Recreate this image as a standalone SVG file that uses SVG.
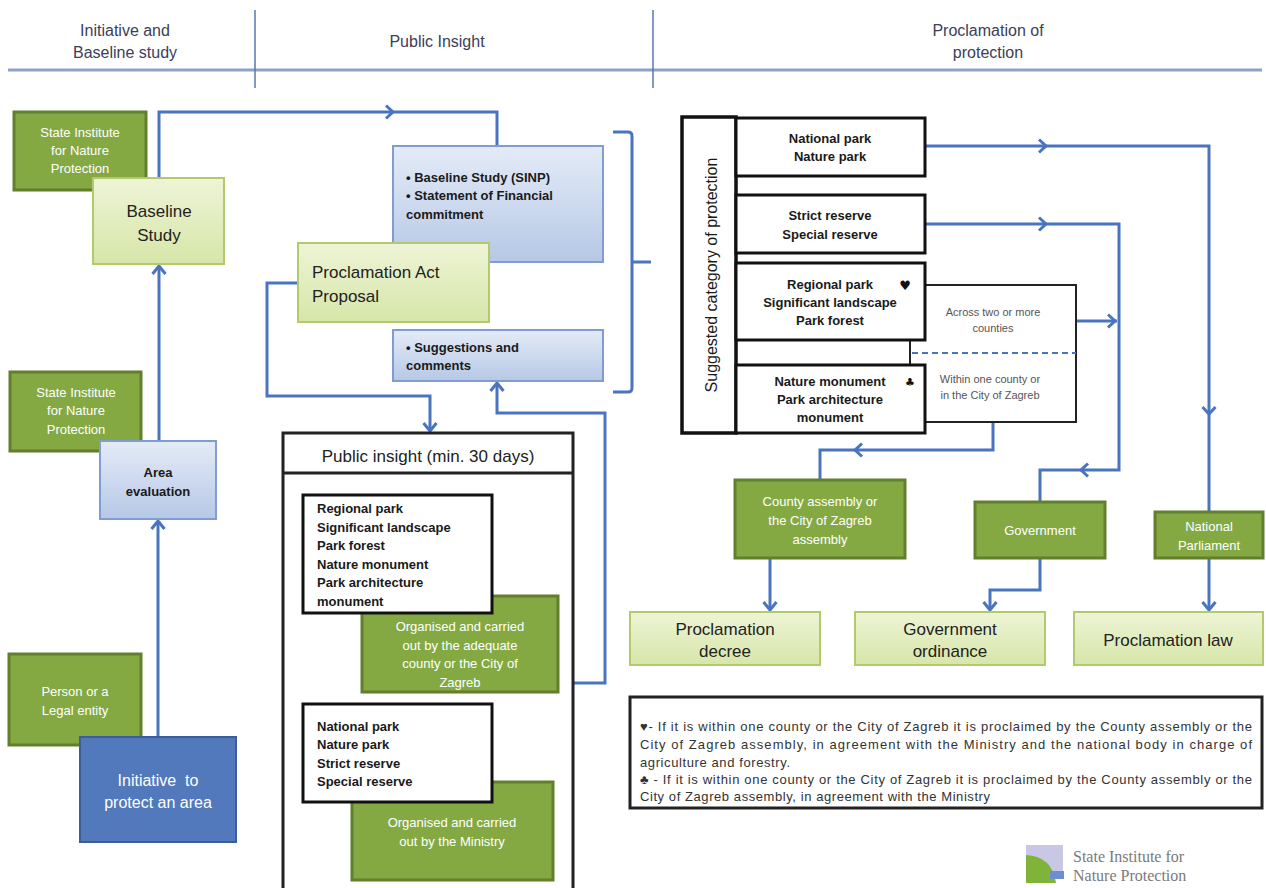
<svg xmlns="http://www.w3.org/2000/svg" width="1266" height="888" viewBox="0 0 1266 888">
<defs>
<linearGradient id="gLight" x1="0" y1="0" x2="0" y2="1"><stop offset="0" stop-color="#eef4d6"/><stop offset="1" stop-color="#d6e6a8"/></linearGradient>
<linearGradient id="gBlue" x1="0" y1="0" x2="0" y2="1"><stop offset="0" stop-color="#e4ebf7"/><stop offset="1" stop-color="#b6c8e6"/></linearGradient>
<marker id="arr" markerUnits="userSpaceOnUse" viewBox="-10 -8 12 16" markerWidth="12" markerHeight="16" refX="0" refY="0" orient="auto"><path d="M-8,-6.5 L0,0 L-8,6.5" fill="none" stroke="#4a74c0" stroke-width="3"/></marker>
<path id="chev" d="M-7,-6.5 L0,0 L-7,6.5" fill="none" stroke="#4a74c0" stroke-width="3"/>
</defs>
<style>
.hdr{font-family:"Liberation Sans",Arial,sans-serif;font-size:16px;fill:#3b4058;text-anchor:middle}
.gbox{fill:#84a943;stroke:#617f2c;stroke-width:3}
.lbox{fill:url(#gLight);stroke:#b3ca6c;stroke-width:2}
.bbox{fill:url(#gBlue);stroke:#7f9dd0;stroke-width:2}
.kbox{fill:#ffffff;stroke:#111111;stroke-width:3}
.wt{font-family:"Liberation Sans",Arial,sans-serif;font-size:13px;fill:#ffffff;text-anchor:middle}
.wt16{font-family:"Liberation Sans",Arial,sans-serif;font-size:16px;fill:#ffffff;text-anchor:middle}
.dk{font-family:"Liberation Sans",Arial,sans-serif;font-size:17px;fill:#222222;text-anchor:middle}
.dkl{font-family:"Liberation Sans",Arial,sans-serif;font-size:17px;fill:#222222}
.bd{font-family:"Liberation Sans",Arial,sans-serif;font-size:13px;font-weight:bold;fill:#1a1a1a}
.bdc{font-family:"Liberation Sans",Arial,sans-serif;font-size:13px;font-weight:bold;fill:#1a1a1a;text-anchor:middle}
.gy{font-family:"Liberation Sans",Arial,sans-serif;font-size:11px;fill:#555555;text-anchor:middle}
.fn{font-family:"Liberation Sans",Arial,sans-serif;font-size:13px;fill:#333333}
.con{fill:none;stroke:#4a74c0;stroke-width:3}
</style>
<rect width="1266" height="888" fill="#ffffff"/>

<g id="header">
<line x1="8" y1="70" x2="1262" y2="70" stroke="#8ea2c6" stroke-width="3"/>
<line x1="255" y1="10" x2="255" y2="88" stroke="#5a76ae" stroke-width="1.5"/>
<line x1="653" y1="10" x2="653" y2="88" stroke="#5a76ae" stroke-width="1.5"/>
<text class="hdr" x="125" y="36">Initiative and</text>
<text class="hdr" x="125" y="58">Baseline study</text>
<text class="hdr" x="437" y="47">Public Insight</text>
<text class="hdr" x="988" y="36">Proclamation of</text>
<text class="hdr" x="988" y="58">protection</text>
</g>

<g id="connectors">
<path class="con" d="M159,441 V266" marker-end="url(#arr)"/>
<path class="con" d="M158,737 V521" marker-end="url(#arr)"/>
<path class="con" d="M159,178 V112 H497 V146"/>
<use href="#chev" transform="translate(393,112)"/>
<path class="con" d="M298,283 H267 V396 H430 V431" marker-end="url(#arr)"/>
<path class="con" d="M573,683 H605 V413 H497 V383" marker-end="url(#arr)"/>
<path class="con" d="M925,146 H1209 V512"/>
<use href="#chev" transform="translate(1046,146)"/>
<use href="#chev" transform="translate(1209,414) rotate(90)"/>
<path class="con" d="M925,224 H1119 V470 H1040 V502"/>
<use href="#chev" transform="translate(1046,224)"/>
<use href="#chev" transform="translate(1081,470) rotate(180)"/>
<path class="con" d="M1076,321 H1117"/>
<use href="#chev" transform="translate(1115,321)"/>
<path class="con" d="M993,422 V450 H820 V480"/>
<use href="#chev" transform="translate(855,450) rotate(180)"/>
<path class="con" d="M770,558 V610" marker-end="url(#arr)"/>
<path class="con" d="M1040,558 V590 H990 V610" marker-end="url(#arr)"/>
<path class="con" d="M1209,558 V610" marker-end="url(#arr)"/>
<path d="M613,132 H628 Q632,132 632,136 V388 Q632,392 628,392 H613 M632,262 H651" fill="none" stroke="#4a74c0" stroke-width="3"/>
</g>

<g id="sinp1"><rect class="gbox" x="14" y="112" width="132" height="78"/>
<text class="wt" x="80" y="137">State Institute</text><text class="wt" x="80" y="155">for Nature</text><text class="wt" x="80" y="173">Protection</text></g>
<g id="baseline"><rect class="lbox" x="93" y="178" width="131" height="86"/>
<text class="dk" x="159" y="217">Baseline</text><text class="dk" x="159" y="241">Study</text></g>
<g id="sinp2"><rect class="gbox" x="10" y="372" width="131" height="79"/>
<text class="wt" x="76" y="397">State Institute</text><text class="wt" x="76" y="415">for Nature</text><text class="wt" x="76" y="434">Protection</text></g>
<g id="area"><rect class="bbox" x="100" y="441" width="116" height="78"/>
<text class="bdc" x="158" y="477">Area</text><text class="bdc" x="158" y="496">evaluation</text></g>
<g id="person"><rect class="gbox" x="9" y="654" width="132" height="91"/>
<text class="wt" x="75" y="696">Person or a</text><text class="wt" x="75" y="715">Legal entity</text></g>
<g id="initiative"><rect x="80" y="737" width="156" height="105" fill="#5179bb" stroke="#3b5d9a" stroke-width="2"/>
<text class="wt16" x="158" y="786" xml:space="preserve">Initiative  to</text><text class="wt16" x="158" y="808">protect an area</text></g>

<g id="docs"><rect class="bbox" x="393" y="146" width="210" height="116"/>
<text class="bd" x="406" y="182">• Baseline Study (SINP)</text><text class="bd" x="406" y="200">• Statement of Financial</text><text class="bd" x="406" y="219">commitment</text></g>
<g id="proposal"><rect class="lbox" x="298" y="243" width="191" height="79"/>
<text class="dkl" x="312" y="278">Proclamation Act</text><text class="dkl" x="312" y="302">Proposal</text></g>
<g id="suggestions"><rect class="bbox" x="393" y="330" width="210" height="51"/>
<text class="bd" x="406" y="352">• Suggestions and</text><text class="bd" x="406" y="370">comments</text></g>

<g id="publicinsight">
<rect x="283" y="433" width="290" height="470" fill="#ffffff" stroke="#222222" stroke-width="3"/>
<line x1="283" y1="473" x2="573" y2="473" stroke="#222222" stroke-width="3"/>
<text class="dk" x="428" y="462">Public insight (min. 30 days)</text>
</g>
<g id="org1"><rect class="gbox" x="362" y="596" width="196" height="96"/>
<text class="wt" x="460" y="631">Organised and carried</text><text class="wt" x="460" y="650">out by the adequate</text><text class="wt" x="460" y="668">county or the City of</text><text class="wt" x="460" y="687">Zagreb</text></g>
<g id="cat1"><rect class="kbox" x="303" y="495" width="189" height="118"/>
<text class="bd" x="317" y="513">Regional park</text><text class="bd" x="317" y="532">Significant landscape</text><text class="bd" x="317" y="550">Park forest</text><text class="bd" x="317" y="569">Nature monument</text><text class="bd" x="317" y="587">Park architecture</text><text class="bd" x="317" y="606">monument</text></g>
<g id="org2"><rect class="gbox" x="352" y="782" width="201" height="98"/>
<text class="wt" x="452" y="827">Organised and carried</text><text class="wt" x="452" y="846">out by the Ministry</text></g>
<g id="cat2"><rect class="kbox" x="303" y="704" width="189" height="98"/>
<text class="bd" x="317" y="731">National park</text><text class="bd" x="317" y="749">Nature park</text><text class="bd" x="317" y="768">Strict reserve</text><text class="bd" x="317" y="786">Special reserve</text></g>

<g id="suggested">
<rect x="682" y="117" width="54" height="316" fill="#ffffff" stroke="#111111" stroke-width="3.5"/>
<text transform="translate(717,275) rotate(-90)" font-family="Liberation Sans,Arial,sans-serif" font-size="16" fill="#1a1a1a" text-anchor="middle">Suggested category of protection</text>
</g>
<g id="sidebox">
<rect x="910" y="285" width="166" height="137" fill="#ffffff" stroke="#222222" stroke-width="2"/>
<line x1="912" y1="353" x2="1076" y2="353" stroke="#4a74c0" stroke-width="2" stroke-dasharray="6,4"/>
<text class="gy" x="993" y="316">Across two or more</text><text class="gy" x="993" y="332">counties</text>
<text class="gy" x="990" y="383">Within one county or</text><text class="gy" x="990" y="399">in the City of Zagreb</text>
</g>
<g id="natpark"><rect class="kbox" x="736" y="118" width="189" height="58"/>
<text class="bdc" x="830" y="143">National park</text><text class="bdc" x="830" y="161">Nature park</text></g>
<g id="strict"><rect class="kbox" x="736" y="195" width="189" height="58"/>
<text class="bdc" x="830" y="220">Strict reserve</text><text class="bdc" x="830" y="239">Special reserve</text></g>
<g id="regional"><rect class="kbox" x="736" y="263" width="189" height="77"/>
<text class="bdc" x="830" y="289">Regional park</text><text class="bdc" x="830" y="307">Significant landscape</text><text class="bdc" x="830" y="325">Park forest</text>
<text x="905" y="290" font-family="DejaVu Sans,sans-serif" font-size="13" fill="#111111" text-anchor="middle">♥</text></g>
<g id="monument"><rect class="kbox" x="736" y="365" width="189" height="68"/>
<text class="bdc" x="830" y="386">Nature monument</text><text class="bdc" x="830" y="404">Park architecture</text><text class="bdc" x="830" y="422">monument</text>
<text x="910" y="386" font-family="DejaVu Sans,sans-serif" font-size="11" fill="#111111" text-anchor="middle">♣</text></g>

<g id="county"><rect class="gbox" x="735" y="480" width="170" height="78"/>
<text class="wt" x="820" y="506">County assembly or</text><text class="wt" x="820" y="525">the City of Zagreb</text><text class="wt" x="820" y="544">assembly</text></g>
<g id="government"><rect class="gbox" x="975" y="502" width="130" height="56"/>
<text class="wt" x="1040" y="535">Government</text></g>
<g id="parliament"><rect class="gbox" x="1155" y="512" width="108" height="46"/>
<text class="wt" x="1209" y="531">National</text><text class="wt" x="1209" y="550">Parliament</text></g>
<g id="decree"><rect class="lbox" x="630" y="612" width="190" height="53"/>
<text class="dk" x="725" y="635">Proclamation</text><text class="dk" x="725" y="657">decree</text></g>
<g id="ordinance"><rect class="lbox" x="855" y="612" width="190" height="53"/>
<text class="dk" x="950" y="635">Government</text><text class="dk" x="950" y="657">ordinance</text></g>
<g id="law"><rect class="lbox" x="1074" y="612" width="189" height="53"/>
<text class="dk" x="1168" y="646">Proclamation law</text></g>

<g id="footnote">
<rect x="630" y="697" width="632" height="111" fill="#ffffff" stroke="#222222" stroke-width="3"/>
<text class="fn" x="640" y="731" textLength="612" lengthAdjust="spacing">♥- If it is within one county or the City of Zagreb it is proclaimed by the County assembly or the</text>
<text class="fn" x="640" y="749" textLength="612" lengthAdjust="spacing">City of Zagreb assembly, in agreement with the Ministry and the national body in charge of</text>
<text class="fn" x="640" y="767" textLength="150" lengthAdjust="spacing">agriculture and forestry.</text>
<text class="fn" x="640" y="784" textLength="612" lengthAdjust="spacing">♣ - If it is within one county or the City of Zagreb it is proclaimed by the County assembly or the</text>
<text class="fn" x="640" y="801" textLength="350" lengthAdjust="spacing">City of Zagreb assembly, in agreement with the Ministry</text>
</g>

<g id="logo">
<rect x="1026" y="845" width="37" height="34" fill="#c9c8e4"/>
<path d="M1026,855 Q1052,856 1056,883 H1026 Z" fill="#7fb33a"/>
<rect x="1050" y="871" width="14" height="8" fill="#6d8fd0"/>
<text x="1073" y="862" font-family="Liberation Serif,serif" font-size="16" fill="#7a7a7a">State Institute for</text>
<text x="1073" y="881" font-family="Liberation Serif,serif" font-size="16" fill="#7a7a7a">Nature Protection</text>
</g>
</svg>
